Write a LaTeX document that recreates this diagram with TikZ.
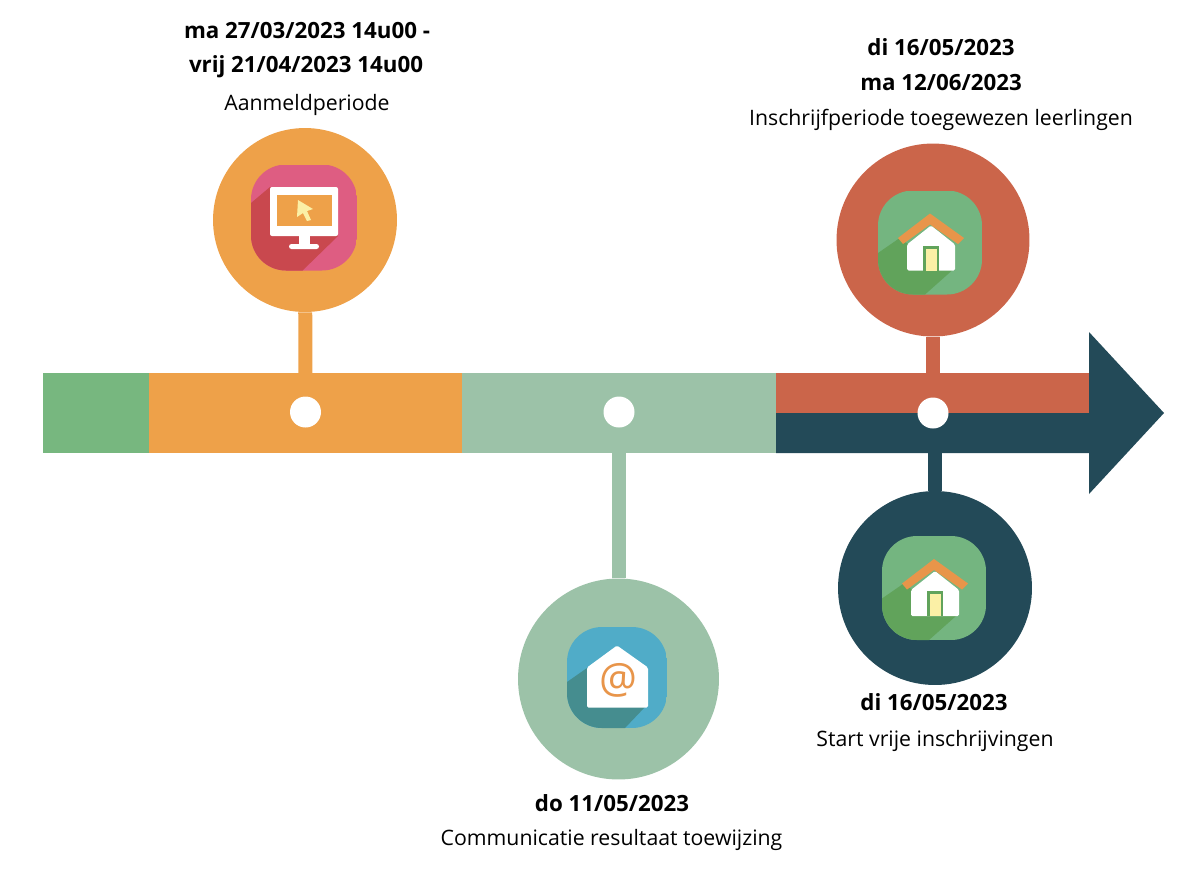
\documentclass[tikz,border=0pt]{standalone}
\usepackage{fontspec}
\setmainfont{Open Sans}
\definecolor{startgreen}{HTML}{77B77F}
\definecolor{barorange}{HTML}{EEA149}
\definecolor{barsage}{HTML}{9CC2A8}
\definecolor{barred}{HTML}{CB654A}
\definecolor{barnavy}{HTML}{234A58}
\definecolor{iconpink}{HTML}{DE5D82}
\definecolor{iconred}{HTML}{C9484E}
\definecolor{icongreen}{HTML}{74B580}
\definecolor{icondark}{HTML}{61A35B}
\definecolor{iconblue}{HTML}{50ACC8}
\definecolor{iconteal}{HTML}{458D8F}
\definecolor{roofcol}{HTML}{E8954A}
\definecolor{palecol}{HTML}{FBF0A6}
\tikzset{
  stem/.style={line width=.28cm},
  dot/.style={circle, fill=white, inner sep=0pt, minimum size=.62cm},
  disc/.style={circle, inner sep=0pt, minimum size=#1},
  date/.style={font=\fontsize{12.7}{14}\selectfont\bfseries, inner sep=0pt},
  caption/.style={font=\fontsize{12.1}{14}\selectfont, inner sep=0pt},
  monitoricon/.pic={
    \begin{scope}
      \clip[rounded corners=.7cm] (-53,-53) rectangle (53,53);
      \fill[iconpink] (-53,-53) rectangle (53,53);
      \fill[iconred] (-53,-14.5) -- (-34,-30.5) -- (34,18.5) -- (-2,53.5) -- (-53,53.5) -- cycle;
    \end{scope}
    \fill[white, rounded corners=.04cm] (-34,-30.5) rectangle (34,18.5);
    \fill[barorange] (-27,-22.5) rectangle (28,8.5);
    \fill[white] (-5,18.5) rectangle (6,30);
    \fill[white, rounded corners=.05cm] (-15,26.5) rectangle (15,31.5);
    \fill[palecol] (-6,-17.5) -- (9,-8.5) -- (3,-6.5) -- (7,2.5) -- (3,3.5) -- (-1,-4.5) -- (-7,-.5) -- cycle;
  },
  houseicon/.pic={
    \begin{scope}
      \clip[rounded corners=.7cm] (-52,-52) rectangle (52,52);
      \fill[icongreen] (-52,-52) rectangle (52,52);
      \fill[icondark] (-52,10.5) -- (-31,-4) -- (22,28) -- (-5,52) -- (-52,52) -- cycle;
    \end{scope}
    \fill[white, rounded corners=.03cm] (1,-17) -- (25,2) -- (25,28) -- (-23,28) -- (-23,2) -- cycle;
    \fill[roofcol] (0,-29) -- (34,-4.5) -- (28,1.5) -- (0,-18) -- (-27,1.5) -- (-32,-4.5) -- cycle;
    \fill[icondark] (-7,3) rectangle (9,28);
    \fill[palecol] (-4,6) rectangle (7,28);
  },
  mailicon/.pic={
    \begin{scope}
      \clip[rounded corners=.7cm] (-50,-50.5) rectangle (50,50.5);
      \fill[iconblue] (-50,-50.5) rectangle (50,50.5);
      \fill[iconteal] (-50,4.5) -- (-30,-9.5) -- (28,29.5) -- (8,50.5) -- (-50,50.5) -- cycle;
    \end{scope}
    \fill[white, rounded corners=.03cm] (0,-32) -- (31,-10) -- (31,30) -- (-30,30) -- (-30,-10) -- cycle;
    \node[text=roofcol, font=\fontsize{24}{24}\selectfont, inner sep=0pt] (atsign) at (1,3) {@};
  }
}
\begin{document}
\begin{tikzpicture}[x=.02cm, y=-.02cm]
\useasboundingbox (0,0) rectangle (1200,877);
% timeline
\fill[startgreen] (43,373) rectangle (149,453);
\fill[barorange] (149,373) rectangle (462,453);
\fill[barsage] (462,373) rectangle (776,453);
\fill[barred] (776,373) rectangle (1089,413);
\fill[barnavy] (776,413) -- (1089,413) -- (1089,332) -- (1164,413) -- (1089,494) -- (1089,453) -- (776,453) -- cycle;
% discs
\node[disc=3.68cm, fill=barorange] (apply) at (305,220) {};
\node[disc=4.02cm, fill=barsage] (notify) at (618.5,679) {};
\node[disc=3.86cm, fill=barred] (enrol) at (933,240) {};
\node[disc=3.88cm, fill=barnavy] (free) at (935,588) {};
\node[dot] (applydot) at (305.5,412) {};
\node[dot] (notifydot) at (619,412) {};
\node[dot] (enroldot) at (933,413) {};
% stems
\draw[stem, barorange] (apply) -- (applydot);
\draw[stem, barsage] (notify.north) -- (notify.north |- notifydot.south);
\draw[stem, barred] (enrol) -- (enroldot);
\draw[stem, barnavy] (free.north) -- (free.north |- enroldot.south);
% icons
\pic at (304,217.5) {monitoricon};
\pic at (930,242.5) {houseicon};
\pic at (934,588) {houseicon};
\pic at (617,677.5) {mailicon};
% labels
\node[date] (applyfrom) at (307,31) {ma 27/03/2023 14u00 -};
\node[date] (applyto) at (306,67) {vrij 21/04/2023 14u00};
\node[caption] (applytext) at (307,105) {Aanmeldperiode};
\node[date] (enrolfrom) at (941,47) {di 16/05/2023};
\node[date] (enrolto) at (941,83) {ma 12/06/2023};
\node[caption] (enroltext) at (941,120) {Inschrijfperiode toegewezen leerlingen};
\node[date] (notifydate) at (612,803) {do 11/05/2023};
\node[caption] (notifytext) at (611.5,840) {Communicatie resultaat toewijzing};
\node[date] (freedate) at (934,702) {di 16/05/2023};
\node[caption] (freetext) at (935,741) {Start vrije inschrijvingen};
\end{tikzpicture}
\end{document}
